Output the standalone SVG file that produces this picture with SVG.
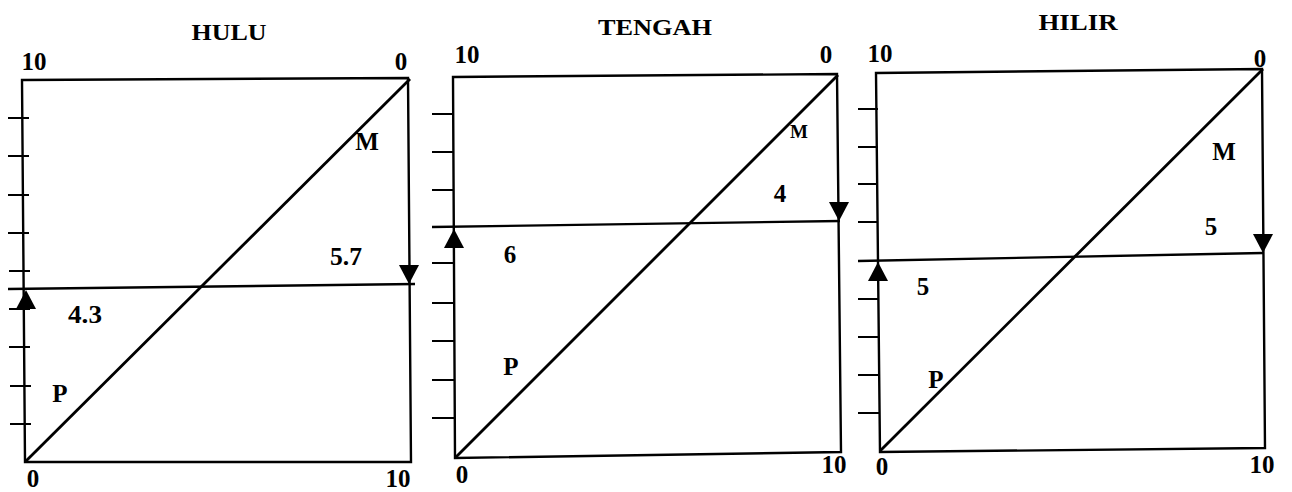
<svg xmlns="http://www.w3.org/2000/svg" xmlns:xlink="http://www.w3.org/1999/xlink" width="1292" height="492" viewBox="0 0 1292 492">
<style>
.frame{fill:none;stroke:#000;stroke-width:2.4;stroke-linejoin:miter}
.diag{stroke:#000;stroke-width:2.8;fill:none}
.hline{stroke:#000;stroke-width:2.4;fill:none}
.tick{stroke:#000;stroke-width:2.2;fill:none}
.ah{fill:#000;stroke:none}
text{font-family:"Liberation Serif","Times New Roman",serif;font-weight:bold;fill:#000;text-anchor:middle}
.lab{font-size:25px}
.title{font-size:24px}
.sm{font-size:19px}
</style>
<defs>
<path id="ahUp" d="M0,0 L10,19 L-10,19 Z"/>
<path id="ahDown" d="M0,0 L10,-19 L-10,-19 Z"/>
</defs>
<rect width="1292" height="492" fill="#fff"/>

<g id="panel-hulu">
<text class="title" x="229" y="40" textLength="75" lengthAdjust="spacingAndGlyphs">HULU</text>
<text class="lab" x="34" y="70">10</text>
<text class="lab" x="401" y="70">0</text>
<polygon class="frame" points="22,80 408,78 411,462 25,462"/>
<path class="diag" d="M25,462 L410,79"/>
<path class="hline" d="M8,289 L415,284"/>
<path class="tick" d="M8,118H29M8,156H29M8,195H29M8,233H29M9,271H30M9,309H30M9,347H30M10,386H31M10,424H31"/>
<text class="lab" x="367" y="150">M</text>
<text class="lab" x="346" y="265" textLength="32" lengthAdjust="spacingAndGlyphs">5.7</text>
<text class="lab" x="85" y="323" textLength="34" lengthAdjust="spacingAndGlyphs">4.3</text>
<text class="lab" x="60" y="402">P</text>
<text class="lab" x="33" y="487">0</text>
<text class="lab" x="398" y="487">10</text>
</g>

<g id="panel-tengah">
<text class="title" x="655" y="35" textLength="114" lengthAdjust="spacingAndGlyphs">TENGAH</text>
<text class="lab" x="467" y="63">10</text>
<text class="lab" x="826" y="63">0</text>
<polygon class="frame" points="453,77 837,74 841,452 455,458"/>
<path class="diag" d="M455,458 L838,75"/>
<path class="hline" d="M432,227 L840,221"/>
<path class="tick" d="M432,114H454M432,152H454M432,190H454M432,263H455M432,303H455M432,341H455M432,380H455M432,418H455"/>
<text class="sm" x="799" y="138">M</text>
<text class="lab" x="780" y="202">4</text>
<text class="lab" x="510" y="263">6</text>
<text class="lab" x="511" y="375">P</text>
<text class="lab" x="462" y="483">0</text>
<text class="lab" x="834" y="473">10</text>
</g>

<g id="panel-hilir">
<text class="title" x="1078" y="30" textLength="79" lengthAdjust="spacingAndGlyphs">HILIR</text>
<text class="lab" x="880" y="62">10</text>
<text class="lab" x="1260" y="67">0</text>
<polygon class="frame" points="876,73 1262,69 1265,448 880,452"/>
<path class="diag" d="M880,451 L1263,69"/>
<path class="hline" d="M858,261 L1263,253"/>
<path class="tick" d="M858,109H878M858,147H878M858,184H878M858,222H878M858,299H879M858,337H879M858,375H879M858,413H879"/>
<text class="lab" x="1224" y="160">M</text>
<text class="lab" x="1211" y="235">5</text>
<text class="lab" x="923" y="295">5</text>
<text class="lab" x="936" y="388">P</text>
<text class="lab" x="882" y="475">0</text>
<text class="lab" x="1262" y="473">10</text>
</g>

<g id="connectors">
<use class="ah" href="#ahUp" x="26" y="290"/>
<use class="ah" href="#ahDown" x="409" y="284"/>
<use class="ah" href="#ahUp" x="454" y="229"/>
<use class="ah" href="#ahDown" x="839" y="221"/>
<use class="ah" href="#ahUp" x="878" y="262"/>
<use class="ah" href="#ahDown" x="1263" y="253"/>
</g>
</svg>
